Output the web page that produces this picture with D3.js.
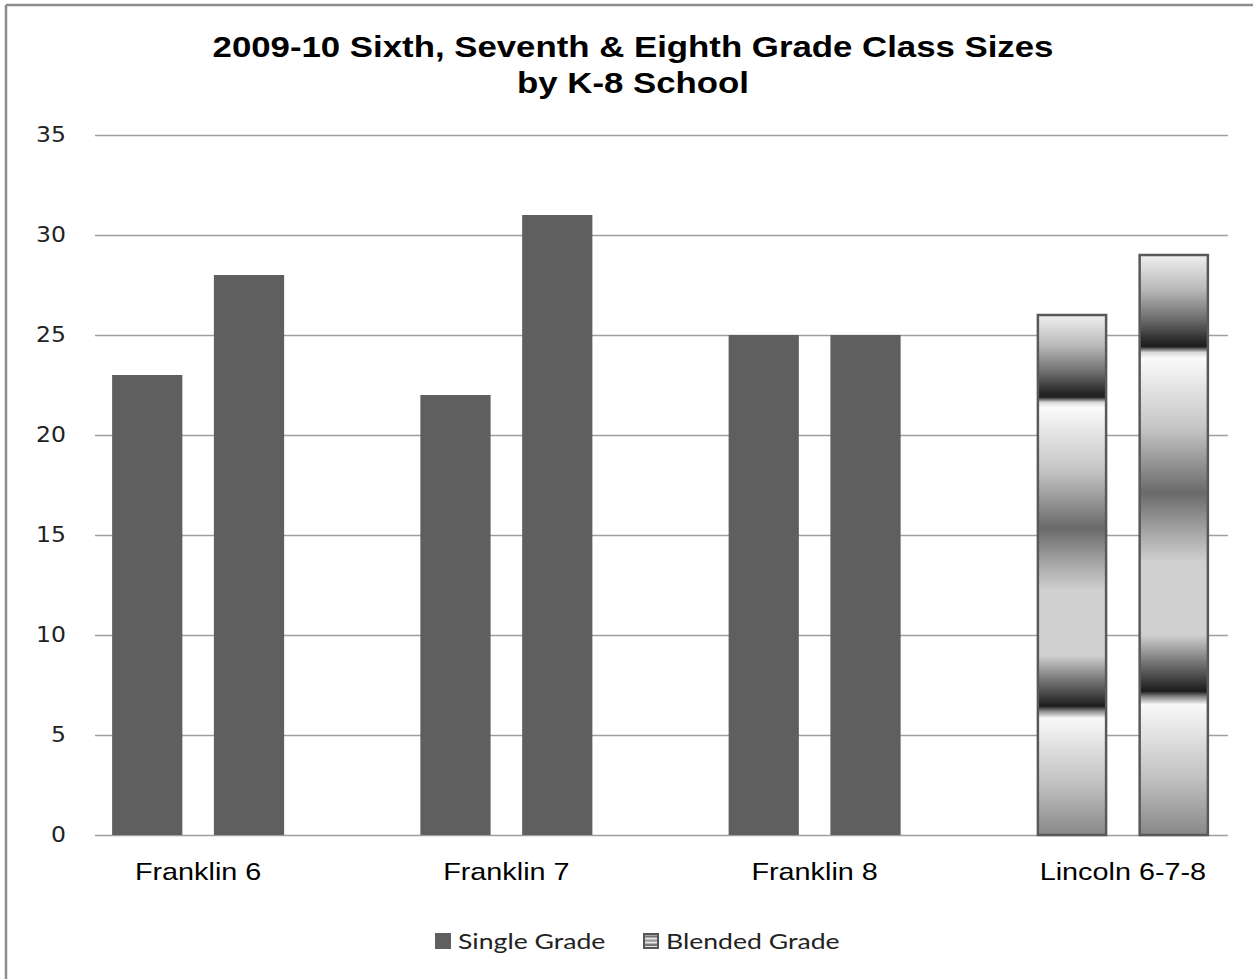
<!DOCTYPE html>
<html>
<head>
<meta charset="utf-8">
<script src="https://cdn.jsdelivr.net/npm/d3@7"></script>
<style>
  html, body { margin: 0; padding: 0; background: #fff; }
  svg { display: block; }
</style>
</head>
<body>
<svg id="chart" width="1253" height="979"></svg>
<script>
// ---- data ----
const categories = ["Franklin 6", "Franklin 7", "Franklin 8", "Lincoln 6-7-8"];
const firstClass = [23, 22, 25, 26];
const secondClass = [28, 31, 25, 29];
const classType = ["Single Grade", "Single Grade", "Single Grade", "Blended Grade"];
const legendLabels = ["Single Grade", "Blended Grade"];
const yTicks = [0, 5, 10, 15, 20, 25, 30, 35];
const titleLines = ["2009-10 Sixth, Seventh & Eighth Grade Class Sizes", "by K-8 School"];

// ---- layout ----
const W = 1253, H = 979;
const svg = d3.select("#chart");
const SX = 1.2; // horizontal stretch of the source image text
const darkFill = "#5f5f5f";

const defs = svg.append("defs");
const grad = defs.append("linearGradient").attr("id", "blend")
  .attr("x1", 0).attr("y1", 0).attr("x2", 0).attr("y2", 1);
const stops = [
  [0, "#f0f0f0"], [0.06, "#b8b8b8"], [0.11, "#6e6e6e"], [0.15, "#262626"],
  [0.158, "#1e1e1e"], [0.168, "#d8d8d8"], [0.178, "#fafafa"], [0.3, "#c4c4c4"],
  [0.41, "#6a6a6a"], [0.48, "#a8a8a8"], [0.53, "#d0d0d0"], [0.655, "#d0d0d0"],
  [0.7, "#7a7a7a"], [0.752, "#1c1c1c"], [0.762, "#8a8a8a"], [0.775, "#f8f8f8"],
  [0.9, "#c2c2c2"], [1, "#888888"]
];
stops.forEach(([o, c]) => grad.append("stop").attr("offset", o).attr("stop-color", c));

const legGrad = defs.append("linearGradient").attr("id", "legblend")
  .attr("x1", 0).attr("y1", 0).attr("x2", 0).attr("y2", 1);
[[0, "#eee"], [0.2, "#666"], [0.3, "#eee"], [0.5, "#888"], [0.6, "#eee"], [0.8, "#555"], [0.9, "#eee"], [1, "#999"]]
  .forEach(([o, c]) => legGrad.append("stop").attr("offset", o).attr("stop-color", c));

// border (top and left only visible)
svg.append("line").attr("x1", 6).attr("x2", W).attr("y1", 5).attr("y2", 5)
  .attr("stroke", "#8c8c8c").attr("stroke-width", 2.5);
svg.append("line").attr("x1", 6).attr("x2", 6).attr("y1", 5).attr("y2", H)
  .attr("stroke", "#8c8c8c").attr("stroke-width", 2.5);

// scales
const y = d3.scaleLinear().domain([0, 35]).range([835, 135]);
const x = d3.scaleBand().domain(categories).range([44, 1277]).padding(0);
const inner = d3.scaleBand().domain([0, 1])
  .range([x.bandwidth() / 2 - 86, x.bandwidth() / 2 + 86]).paddingInner(0.31);

function stretchedText(g, tx, ty, txt, opts) {
  const t = g.append("text")
    .attr("transform", `translate(${tx},${ty}) scale(${opts.sx || SX},1)`)
    .attr("text-anchor", opts.anchor || "middle")
    .attr("font-family", opts.family || "'Liberation Sans', Arial, sans-serif")
    .attr("font-size", opts.size)
    .attr("font-weight", opts.weight || "normal")
    .attr("fill", opts.fill || "#000")
    .text(txt);
  if (opts.dy) t.attr("dy", opts.dy);
  return t;
}

// title
titleLines.forEach((line, i) => {
  stretchedText(svg, 633, 57 + i * 36, line, { size: 29, weight: "bold" });
});

// gridlines
svg.append("g").selectAll("line").data(yTicks).join("line")
  .attr("x1", 95).attr("x2", 1228)
  .attr("y1", d => Math.round(y(d)) + 0.5).attr("y2", d => Math.round(y(d)) + 0.5)
  .attr("stroke", "#9e9e9e").attr("stroke-width", 1.3);

// y tick labels
const yl = svg.append("g");
yTicks.forEach(d => {
  stretchedText(yl, 66, y(d), String(d), { size: 21, anchor: "end", dy: "0.35em", sx: 1.12,
    family: "'DejaVu Sans', Verdana, sans-serif", fill: "#222" });
});

// bars
const rows = categories.map((c, i) => ({ cat: c, vals: [firstClass[i], secondClass[i]], type: classType[i] }));
const gBars = svg.append("g");
rows.forEach(r => {
  r.vals.forEach((v, j) => {
    const x0 = x(r.cat) + inner(j);
    const rect = gBars.append("rect")
      .attr("x", x0).attr("width", inner.bandwidth())
      .attr("y", y(v)).attr("height", y(0) - y(v));
    if (r.type === "Single Grade") {
      rect.attr("fill", darkFill);
    } else {
      rect.attr("fill", "url(#blend)").attr("stroke", "#595959").attr("stroke-width", 2.5)
        .attr("x", x0 + 1).attr("width", inner.bandwidth() - 2);
    }
  });
});

// x labels
const xl = svg.append("g");
categories.forEach(c => {
  stretchedText(xl, x(c) + x.bandwidth() / 2, 880, c, { size: 24 });
});

// legend
const leg = svg.append("g");
const legX = [435, 643];
legendLabels.forEach((lab, i) => {
  const r = leg.append("rect").attr("x", legX[i]).attr("y", 933).attr("width", 16).attr("height", 16);
  if (i === 0) r.attr("fill", darkFill);
  else r.attr("fill", "url(#legblend)").attr("stroke", "#555").attr("stroke-width", 2)
    .attr("x", legX[i] + 1).attr("y", 934).attr("width", 14).attr("height", 14);
  stretchedText(leg, legX[i] + 23, 949, lab, { size: 22, anchor: "start", sx: 1.21,
    family: "Lato, 'Open Sans', sans-serif", fill: "#222" });
});
</script>
</body>
</html>
